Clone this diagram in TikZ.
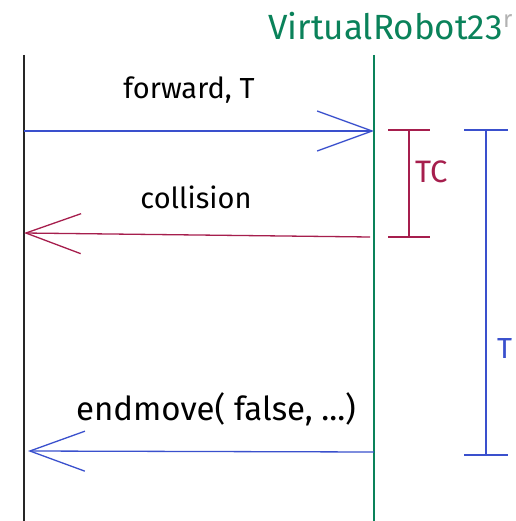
\documentclass[tikz,border=0pt]{standalone}
\usepackage{fontspec}
\setmainfont{Fira Sans}
\usetikzlibrary{arrows.meta}
\definecolor{xblue}{RGB}{58,80,205}
\definecolor{xred}{RGB}{166,30,77}
\definecolor{xgreen}{RGB}{10,130,90}
\begin{document}
\begin{tikzpicture}[x=1pt,y=-1pt,
  lifeline/.style={line width=1.4pt},
  msg/.style={line width=1.3pt, -{Straight Barb[length=55pt,width=40pt,line width=1.3pt]}},
  lbl/.style={font=\fontsize{29}{32}\selectfont, inner sep=0pt},
  bracket/.style={line width=1.4pt}]
\useasboundingbox (0,0) rectangle (515,521);
\fill[white] (0,0) rectangle (515,521);
% title
\node[font=\fontsize{35}{38}\selectfont, inner sep=0pt, text=xgreen, anchor=west] (title) at (268,26) {VirtualRobot23};
\node[font=\fontsize{24}{26}\selectfont, text=gray!60, anchor=west, inner sep=0pt] (ghost) at (503,21) {r};
% lifelines
\coordinate (a0) at (24,55);
\coordinate (a1) at (24,521);
\coordinate (b0) at (374,55);
\coordinate (b1) at (374,521);
\draw[lifeline, black!85] (a0) -- (a1);
\draw[lifeline, xgreen] (b0) -- (b1);
% messages
\coordinate (f0) at (24,131);
\coordinate (f1) at (374,131);
\draw[msg, xblue] (f0) -- (f1);
\node[lbl] (flbl) at (189,90) {forward, T};
\coordinate (c0) at (370,237);
\coordinate (c1) at (24,233);
\draw[msg, xred] (c0) -- (c1);
\node[lbl] (clbl) at (196,197) {collision};
\coordinate (e0) at (374,452);
\coordinate (e1) at (28,451);
\draw[msg, xblue] (e0) -- (e1);
\node[lbl, font=\fontsize{33}{36}\selectfont] (elbl) at (216,409) {endmove( false, ...)};
% TC bracket
\coordinate (tc0) at (409,130);
\coordinate (tc1) at (409,237);
\draw[bracket, xred] (tc0) -- (tc1);
\draw[bracket, xred] (388,130) -- (430,130);
\draw[bracket, xred] (388,237) -- (430,237);
\node[lbl, font=\fontsize{31}{34}\selectfont, text=xred, anchor=west] (tclbl) at (415,172) {TC};
% T bracket
\coordinate (t0) at (486,130);
\coordinate (t1) at (486,455);
\draw[bracket, xblue] (t0) -- (t1);
\draw[bracket, xblue] (464,130) -- (508,130);
\draw[bracket, xblue] (464,455) -- (508,455);
\node[lbl, text=xblue, anchor=west] (tlbl) at (497,349) {T};
\end{tikzpicture}
\end{document}
